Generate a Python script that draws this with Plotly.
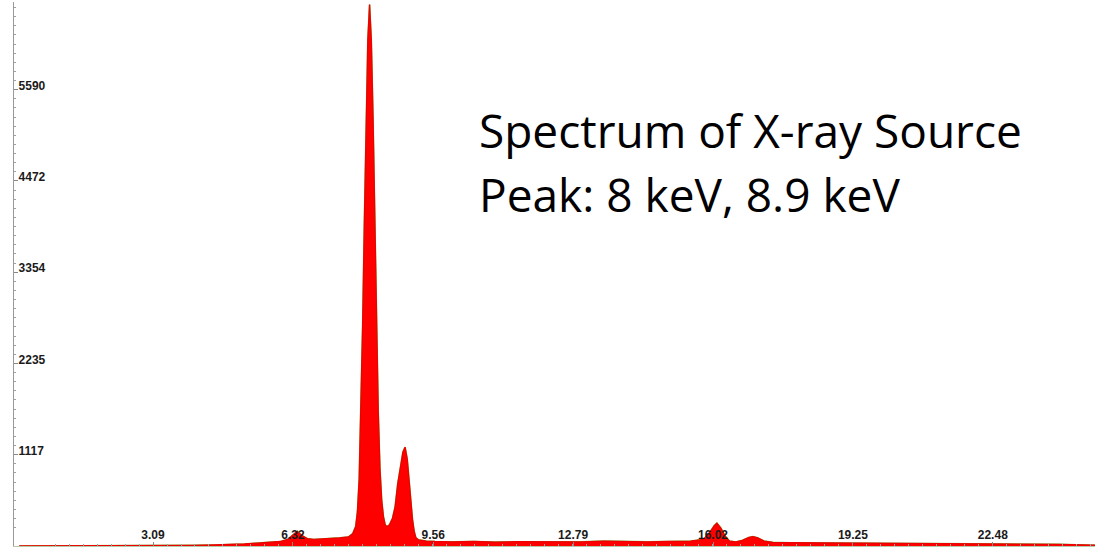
import plotly.graph_objects as go

# Energy (keV) and counts
energy_kev = [
    0.0, 0.5, 1.0, 2.0, 3.0, 3.5, 4.0, 4.5, 4.87, 5.2, 5.5, 5.8, 6.03, 6.2, 6.32, 6.42, 6.52, 6.65,
    6.8, 7.0, 7.2, 7.4, 7.6, 7.7, 7.77, 7.81, 7.85, 7.89, 7.93, 7.97, 8.01, 8.05, 8.09, 8.13,
    8.17, 8.21, 8.25, 8.29, 8.33, 8.37, 8.41, 8.45, 8.49, 8.55, 8.62, 8.68, 8.74, 8.80, 8.86,
    8.91, 8.96, 9.00, 9.04, 9.08, 9.12, 9.16, 9.22, 9.30, 9.40, 9.6, 10.0, 10.5, 11.0, 11.5,
    12.0, 12.5, 13.0, 13.5, 14.0, 14.5, 15.0, 15.5, 15.8, 15.95, 16.05, 16.11, 16.2, 16.3,
    16.4, 16.55, 16.7, 16.85, 16.94, 17.05, 17.2, 17.4, 17.8, 18.5, 19.0, 20.0, 21.0, 22.0,
    23.0, 24.0, 24.84,
]
counts = [
    0, 0, 0, 2, 3, 5, 8, 12, 15, 25, 35, 45, 55, 80, 130, 180, 130, 90,
    80, 85, 90, 100, 110, 150, 240, 420, 820, 1620, 2700, 3970, 5250, 6200, 6630, 6200,
    5250, 3970, 2700, 1650, 950, 560, 360, 260, 235, 260, 340, 480, 760, 980, 1150,
    1210, 1060, 820, 560, 330, 180, 100, 75, 65, 60, 55, 50, 55, 48, 52,
    50, 55, 50, 60, 55, 50, 55, 60, 80, 170, 250, 280, 220, 120,
    60, 50, 70, 105, 115, 100, 60, 45, 40, 38, 35, 35, 32, 30,
    28, 20, 10,
]

x_tick_vals = [3.09, 6.32, 9.56, 12.79, 16.02, 19.25, 22.48]
x_tick_text = ["3.09", "6.32", "9.56", "12.79", "16.02", "19.25", "22.48"]
y_tick_vals = [1117, 2235, 3354, 4472, 5590]
y_tick_text = ["1117", "2235", "3354", "4472", "5590"]

title_line1 = "Spectrum of X-ray Source"
title_line2 = "Peak: 8 keV, 8.9 keV"

W, H = 1095, 548
ML, MR, MT, MB = 14, 0, 2, 2
PW, PH = W - ML - MR, H - MT - MB


def px_x(p):
    return (p - ML) / PW


def px_y(p):
    return (H - MB - p) / PH


fig = go.Figure()
# green outline underneath (visible only at the tip)
fig.add_trace(go.Scatter(
    x=energy_kev, y=counts, mode="lines",
    line=dict(color="#6fbf4a", width=1.6), hoverinfo="skip", showlegend=False,
))
# red filled spectrum on top
fig.add_trace(go.Scatter(
    x=energy_kev, y=counts, mode="lines", fill="tozeroy",
    fillcolor="#ff0000", line=dict(color="#ee0000", width=1.3), showlegend=False,
))

tick_font = dict(family="Liberation Sans, Arial", size=12, color="#1a1a1a", weight="bold")

fig.update_layout(
    width=W, height=H,
    margin=dict(l=ML, r=MR, t=MT, b=MB, pad=0),
    paper_bgcolor="white", plot_bgcolor="white",
    showlegend=False,
    xaxis=dict(
        range=[-0.12, 24.84], showgrid=False, zeroline=False,
        showline=True, linecolor="#b5c8a8", linewidth=1,
        tickmode="array", tickvals=x_tick_vals, ticktext=x_tick_text,
        ticks="inside", ticklen=4, tickcolor="#888888",
        ticklabelposition="inside",
        tickfont=tick_font,
        minor=dict(tick0=3.09, dtick=0.323, ticks="inside", ticklen=2, tickcolor="#a0a0a0"),
    ),
    yaxis=dict(
        range=[0, 6662], showgrid=False, zeroline=False,
        showline=True, linecolor="#999999", linewidth=1,
        tickmode="array", tickvals=y_tick_vals, ticktext=y_tick_text,
        ticks="inside", ticklen=4, tickcolor="#888888",
        ticklabelposition="inside", ticklabelshift=-4,
        tickfont=tick_font,
        minor=dict(tick0=0, dtick=111.76, ticks="inside", ticklen=2, tickcolor="#a0a0a0"),
    ),
    annotations=[
        dict(text=title_line1, xref="paper", yref="paper", x=px_x(477), y=px_y(130),
             xanchor="left", yanchor="middle", showarrow=False,
             font=dict(family="Open Sans", size=46, color="#000000")),
        dict(text=title_line2, xref="paper", yref="paper", x=px_x(477), y=px_y(194),
             xanchor="left", yanchor="middle", showarrow=False,
             font=dict(family="Open Sans", size=46, color="#000000")),
    ],
)

fig.write_html("out.html")
